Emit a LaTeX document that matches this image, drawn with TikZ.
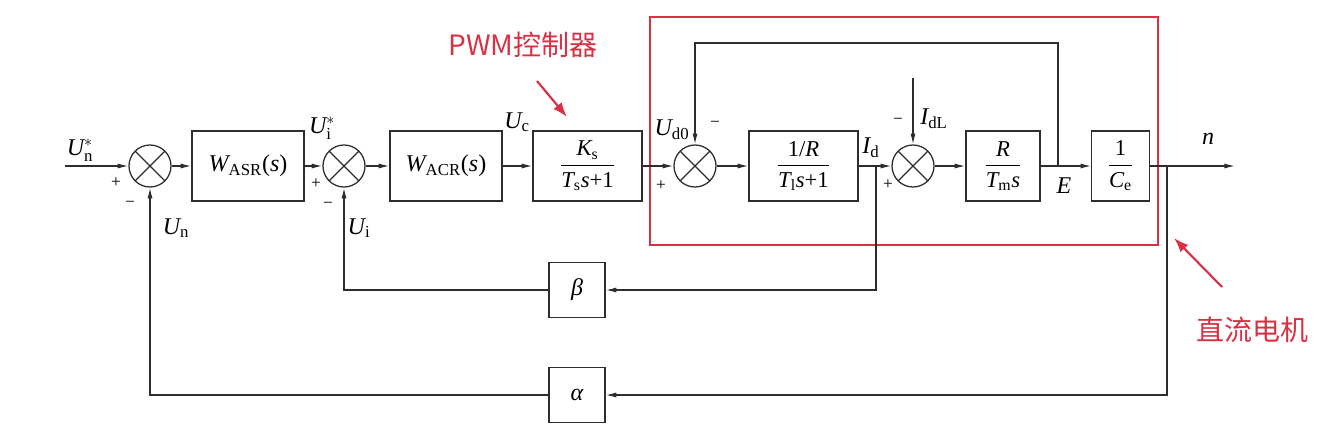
\documentclass[tikz,border=0pt]{standalone}
\usepackage{amsmath}
\usepackage{fontspec}
\setmainfont{Liberation Serif}
\newfontfamily\cjk{Noto Sans CJK SC}
\usetikzlibrary{arrows.meta}
\definecolor{redc}{RGB}{218,48,68}
\definecolor{linec}{RGB}{45,45,45}
\newcommand{\tvar}[1]{\text{\itshape #1}}
\newcommand{\trom}[1]{\text{\upshape #1}}
\begin{document}
\begin{tikzpicture}[x=0.75pt,y=-0.75pt,
  font=\fontsize{18}{21}\selectfont,
  line width=0.95pt,
  arr/.style={draw=linec,-{Latex[length=8pt,width=3.8pt]}},
  blk/.style={draw=linec,rectangle,inner sep=1pt,minimum height=52.5pt},
  frc/.style={font=\fontsize{17}{20}\selectfont},
  sumj/.style={draw=linec,circle,minimum size=31.5pt,inner sep=0pt,
    path picture={\draw[linec,line width=0.95pt]
      ([shift={(45:16pt)}]path picture bounding box.center) -- ([shift={(225:16pt)}]path picture bounding box.center)
      ([shift={(135:16pt)}]path picture bounding box.center) -- ([shift={(315:16pt)}]path picture bounding box.center);}},
  sgn/.style={font=\fontsize{13}{15}\selectfont,inner sep=0pt},
  lbl/.style={inner sep=0pt},
  redtxt/.style={text=redc,font=\cjk\fontsize{21}{25}\selectfont,inner sep=0pt},
  redarr/.style={draw=redc,line width=1.6pt,-{Latex[length=11pt,width=8pt]}}
]
\useasboundingbox (0,0) rectangle (1320,443);

% motor frame
\node[draw=redc,line width=1.4pt,minimum width=381pt,minimum height=171pt,inner sep=0pt] (motor) at (904,131) {};

% blocks
\node[sumj] (sum1) at (150,166) {};
\node[blk,minimum width=84pt] (asr) at (248,166) {$\tvar{W}_{\trom{ASR}}\trom{(}\tvar{s}\trom{)}$};
\node[sumj] (sum2) at (344,166) {};
\node[blk,minimum width=84pt] (acr) at (446,166) {$\tvar{W}_{\trom{ACR}}\trom{(}\tvar{s}\trom{)}$};
\node[blk,frc,minimum width=81.75pt] (ks) at (587.5,166) {$\dfrac{\tvar{K}_{\trom{s}}}{\tvar{T}_{\trom{s}}\tvar{s}\trom{+1}}$};
\node[sumj] (sum3) at (695,166) {};
\node[blk,frc,minimum width=81.75pt] (r1) at (803.5,166) {$\dfrac{\trom{1/}\tvar{R}}{\tvar{T}_{\trom{l}}\tvar{s}\trom{+1}}$};
\node[sumj] (sum4) at (913,166) {};
\node[blk,frc,minimum width=55.5pt] (rtm) at (1003,166) {$\dfrac{\tvar{R}}{\tvar{T}_{\trom{m}}\tvar{s}}$};
\node[blk,frc,minimum width=43pt] (ce) at (1120.5,166) {$\dfrac{\trom{1}}{\tvar{C}_{\trom{e}}}$};
\node[blk,minimum width=42pt,minimum height=41.25pt] (beta) at (577,290) {$\tvar{β}$};
\node[blk,minimum width=42pt,minimum height=41.25pt] (alpha) at (577,395) {$\tvar{α}$};

% coordinates
\coordinate (in) at (65,166);
\coordinate (idb) at (876,166);
\coordinate (eb) at (1058,166);
\coordinate (tfb) at (1058,43);
\coordinate (ob) at (1167,166);
\coordinate (out) at (1235,166);
\coordinate (idl) at (913,78);

% forward path
\draw[arr] (in) -- (sum1);
\draw[arr] (sum1) -- (asr);
\draw[arr] (asr) -- (sum2);
\draw[arr] (sum2) -- (acr);
\draw[arr] (acr) -- (ks);
\draw[arr] (ks) -- (sum3);
\draw[arr] (sum3) -- (r1);
\draw[arr] (r1) -- (sum4);
\draw[arr] (sum4) -- (rtm);
\draw[arr] (rtm) -- (ce);
\draw[arr] (ce) -- (out);
% feedbacks
\draw[arr] (eb) -- (tfb) -| (sum3);
\draw[arr] (idl) -- (sum4);
\draw[arr] (idb) |- (beta);
\draw[arr] (beta) -| (sum2);
\draw[arr] (ob) |- (alpha);
\draw[arr] (alpha) -| (sum1);

% labels
\node[lbl] (luns) at (80,150) {$\tvar{U}_{\trom{n}}^{*}$};
\node[sgn] (p1) at (116,183) {+};
\node[sgn] (m1) at (130,204) {−};
\node[lbl] (lun) at (176,228) {$\tvar{U}_{\trom{n}}$};
\node[lbl] (luis) at (322,128) {$\tvar{U}_{\trom{i}}^{*}$};
\node[sgn] (p2) at (316,184) {+};
\node[sgn] (m2) at (328,205) {−};
\node[lbl] (lui) at (359,228) {$\tvar{U}_{\trom{i}}$};
\node[lbl] (luc) at (517,122) {$\tvar{U}_{\trom{c}}$};
\node[lbl] (lud) at (672,130) {$\tvar{U}_{\trom{d0}}$};
\node[sgn] (m3) at (715,124) {−};
\node[sgn] (p3) at (661,186) {+};
\node[lbl] (lid) at (871,148) {$\tvar{I}_{\trom{d}}$};
\node[sgn] (p4) at (888,185) {+};
\node[sgn] (m4) at (898,121) {−};
\node[lbl] (lidl) at (934,119) {$\tvar{I}_{\trom{dL}}$};
\node[lbl] (le) at (1064,186) {$\tvar{E}$};
\node[lbl] (ln) at (1208,139) {$\tvar{n}$};

% annotations
\node[redtxt] (pwm) at (523,45) {PWM控制器};
\coordinate (pwma) at (537,81);
\coordinate (pwmb) at (567,117);
\draw[redarr] (pwma) -- (pwmb);
\node[redtxt] (dc) at (1252,330) {直流电机};
\coordinate (dca) at (1222,287);
\coordinate (dcb) at (1174,238);
\draw[redarr] (dca) -- (dcb);
\end{tikzpicture}
\end{document}
